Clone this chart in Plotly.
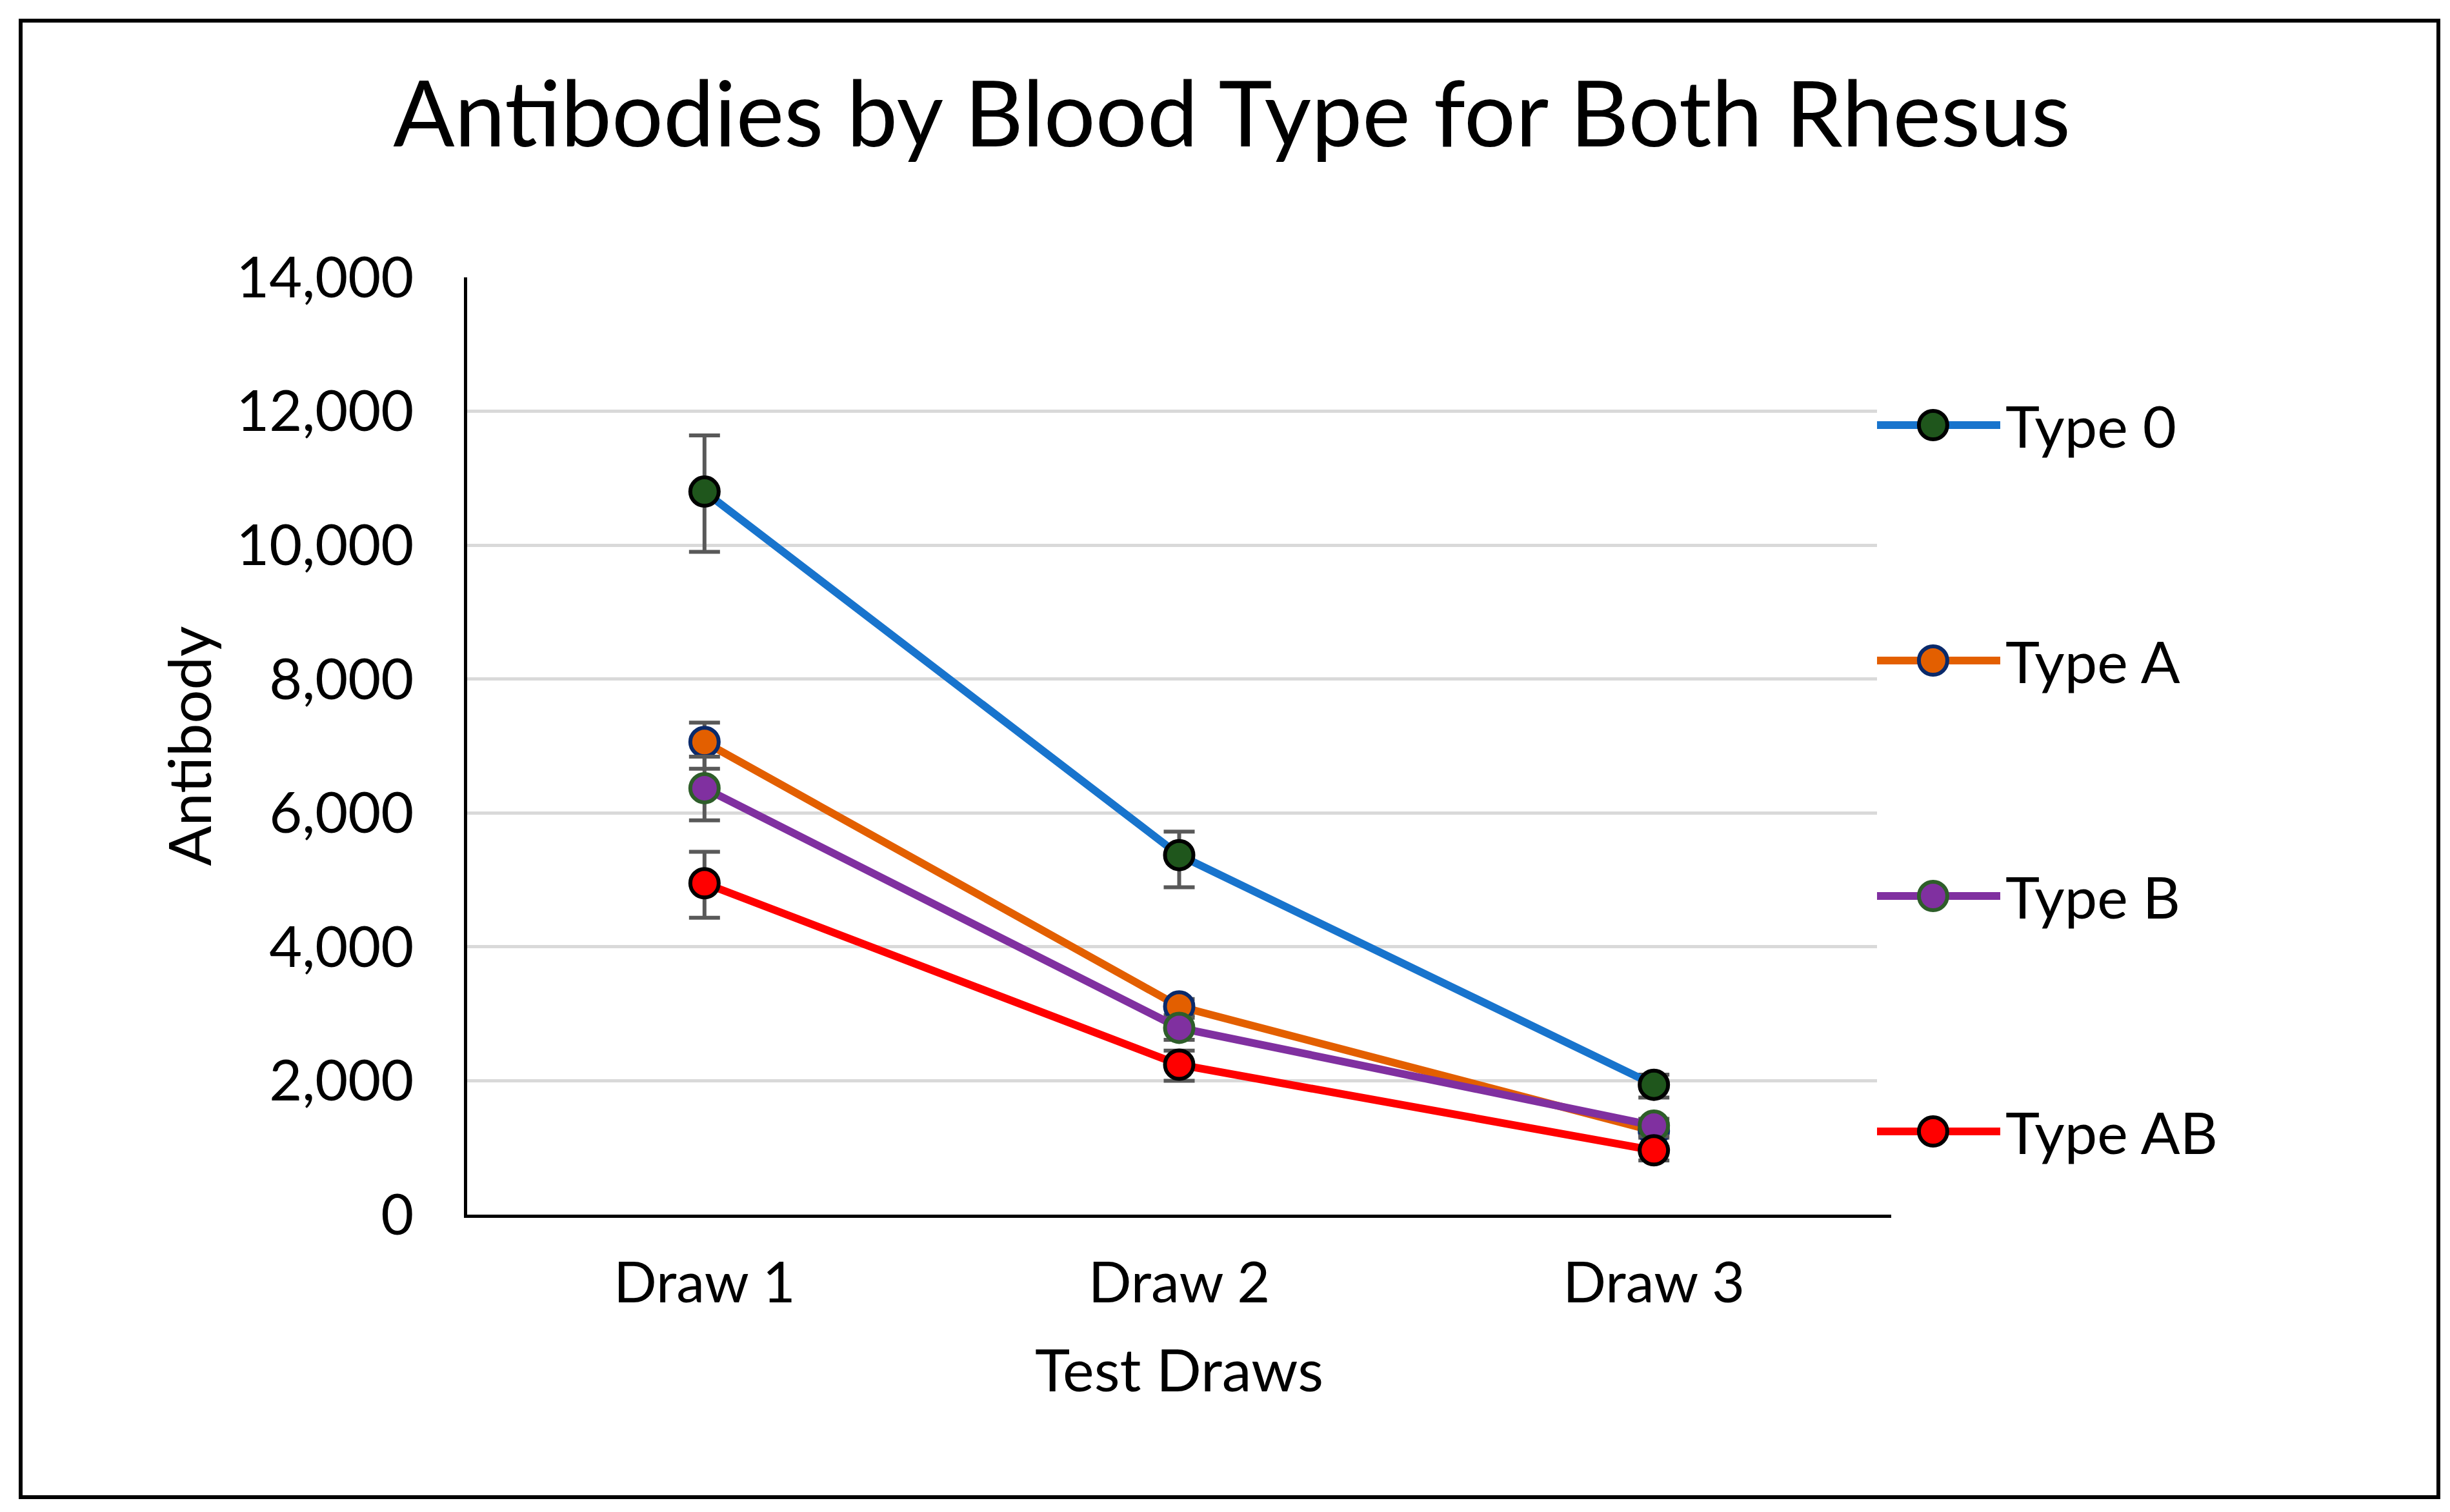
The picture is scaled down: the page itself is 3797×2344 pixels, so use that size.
import plotly.graph_objects as go

categories = ["Draw 1", "Draw 2", "Draw 3"]
series_names = ["Type 0", "Type A", "Type B", "Type AB"]
type0 = [10800, 5370, 1940]
typeA = [7060, 3110, 1250]
typeB = [6370, 2790, 1330]
typeAB = [4950, 2240, 960]
err_plus_0 = [840, 350, 150]
err_minus_0 = [900, 480, 190]
err_plus_A = [290, 110, 100]
err_minus_A = [400, 130, 100]
err_plus_B = [470, 150, 100]
err_minus_B = [480, 180, 160]
err_plus_AB = [470, 210, 50]
err_minus_AB = [515, 240, 150]

line_colors = ["#1874CD", "#E35F00", "#8030A0", "#FF0000"]
fill_colors = ["#1F561C", "#E35F00", "#8030A0", "#FF0000"]
edge_colors = ["#000000", "#0A2A6B", "#2E5E2A", "#000000"]

values = [type0, typeA, typeB, typeAB]
eplus = [err_plus_0, err_plus_A, err_plus_B, err_plus_AB]
eminus = [err_minus_0, err_minus_A, err_minus_B, err_minus_AB]

FONT = "Lato"
W, H = 3797, 2344
L, R, T, B = 716, 297, 422, 469
PLOT_RIGHT = 2923
pw = W - L - R
ph = H - T - B


def px_x(x):
    return (x - L) / pw


def px_y(y):
    return (H - B - y) / ph


fig = go.Figure()
for i, name in enumerate(series_names):
    fig.add_trace(go.Scatter(
        x=categories, y=values[i], name=name, mode="lines+markers", showlegend=False,
        line=dict(color=line_colors[i], width=12),
        marker=dict(size=44, color=fill_colors[i], line=dict(color=edge_colors[i], width=6)),
        error_y=dict(type="data", array=eplus[i], arrayminus=eminus[i], symmetric=False,
                     color="#595959", thickness=6, width=24),
    ))

# custom legend (large symbols like the reference) on an invisible overlay axis
leg_x0, leg_x1, leg_xend = 2901, 3092, 3480
leg_top, leg_bottom = 651, 1746
n = len(series_names)
step = (leg_bottom - leg_top) / (n - 1)
pad = 0.2
for i, name in enumerate(series_names):
    yy = n - 1 - i
    fig.add_trace(go.Scatter(
        x=[0, 1], y=[yy, yy], mode="lines",
        xaxis="x2", yaxis="y2", showlegend=False, hoverinfo="skip", cliponaxis=False,
        line=dict(color=line_colors[i], width=12),
    ))
    fig.add_trace(go.Scatter(
        x=[0.455], y=[yy], mode="markers",
        xaxis="x2", yaxis="y2", showlegend=False, hoverinfo="skip", cliponaxis=False,
        marker=dict(size=44, color=fill_colors[i], line=dict(color=edge_colors[i], width=6)),
    ))
    fig.add_annotation(text=name, xref="x2", yref="y2", x=1.03, y=yy,
                       xanchor="left", yanchor="middle", showarrow=False,
                       font=dict(size=90, family=FONT, color="#000000"))

fig.add_shape(type="rect", xref="paper", yref="paper",
              x0=px_x(24), x1=px_x(3771), y0=px_y(2313), y1=px_y(24),
              line=dict(color="#000000", width=6), fillcolor="rgba(0,0,0,0)", layer="above")

fig.update_layout(
    width=W, height=H,
    margin=dict(l=L, r=R, t=T, b=B),
    paper_bgcolor="white", plot_bgcolor="white",
    font=dict(family=FONT, color="#000000", size=90),
    title=dict(text="Antibodies by Blood Type for Both Rhesus", x=px_x(1901), xref="paper",
               xanchor="center", y=1 - 170 / H, yanchor="middle",
               font=dict(size=141, family=FONT, color="#000000")),
    showlegend=False,
    xaxis=dict(domain=[0, px_x(PLOT_RIGHT)], type="category", categoryorder="array",
               categoryarray=categories,
               range=[-0.5, 2.5], showgrid=False, showline=True, linecolor="#000000", linewidth=5,
               ticks="outside", ticklen=25, tickcolor="rgba(0,0,0,0)",
               tickfont=dict(size=88, family=FONT, color="#000000"),
               title=dict(text="Test Draws", standoff=57, font=dict(size=92, family=FONT, color="#000000")),
               zeroline=False, fixedrange=True),
    yaxis=dict(range=[0, 14000], dtick=2000, tickformat=",", showgrid=True,
               gridcolor="#D9D9D9", gridwidth=5, showline=True, linecolor="#000000", linewidth=5,
               ticks="outside", ticklen=60, tickcolor="rgba(0,0,0,0)",
               tickfont=dict(size=88, family=FONT, color="#000000"),
               title=dict(text="Antibody", standoff=10, font=dict(size=92, family=FONT, color="#000000")),
               zeroline=False, fixedrange=True),
    xaxis2=dict(domain=[px_x(leg_x0), px_x(leg_xend)],
                range=[0, (leg_xend - leg_x0) / (leg_x1 - leg_x0)], visible=False,
                anchor="y2", fixedrange=True),
    yaxis2=dict(domain=[px_y(leg_bottom + pad * step), px_y(leg_top - pad * step)],
                range=[-pad, n - 1 + pad], visible=False,
                anchor="x2", fixedrange=True),
)

fig.write_html("out.html")
